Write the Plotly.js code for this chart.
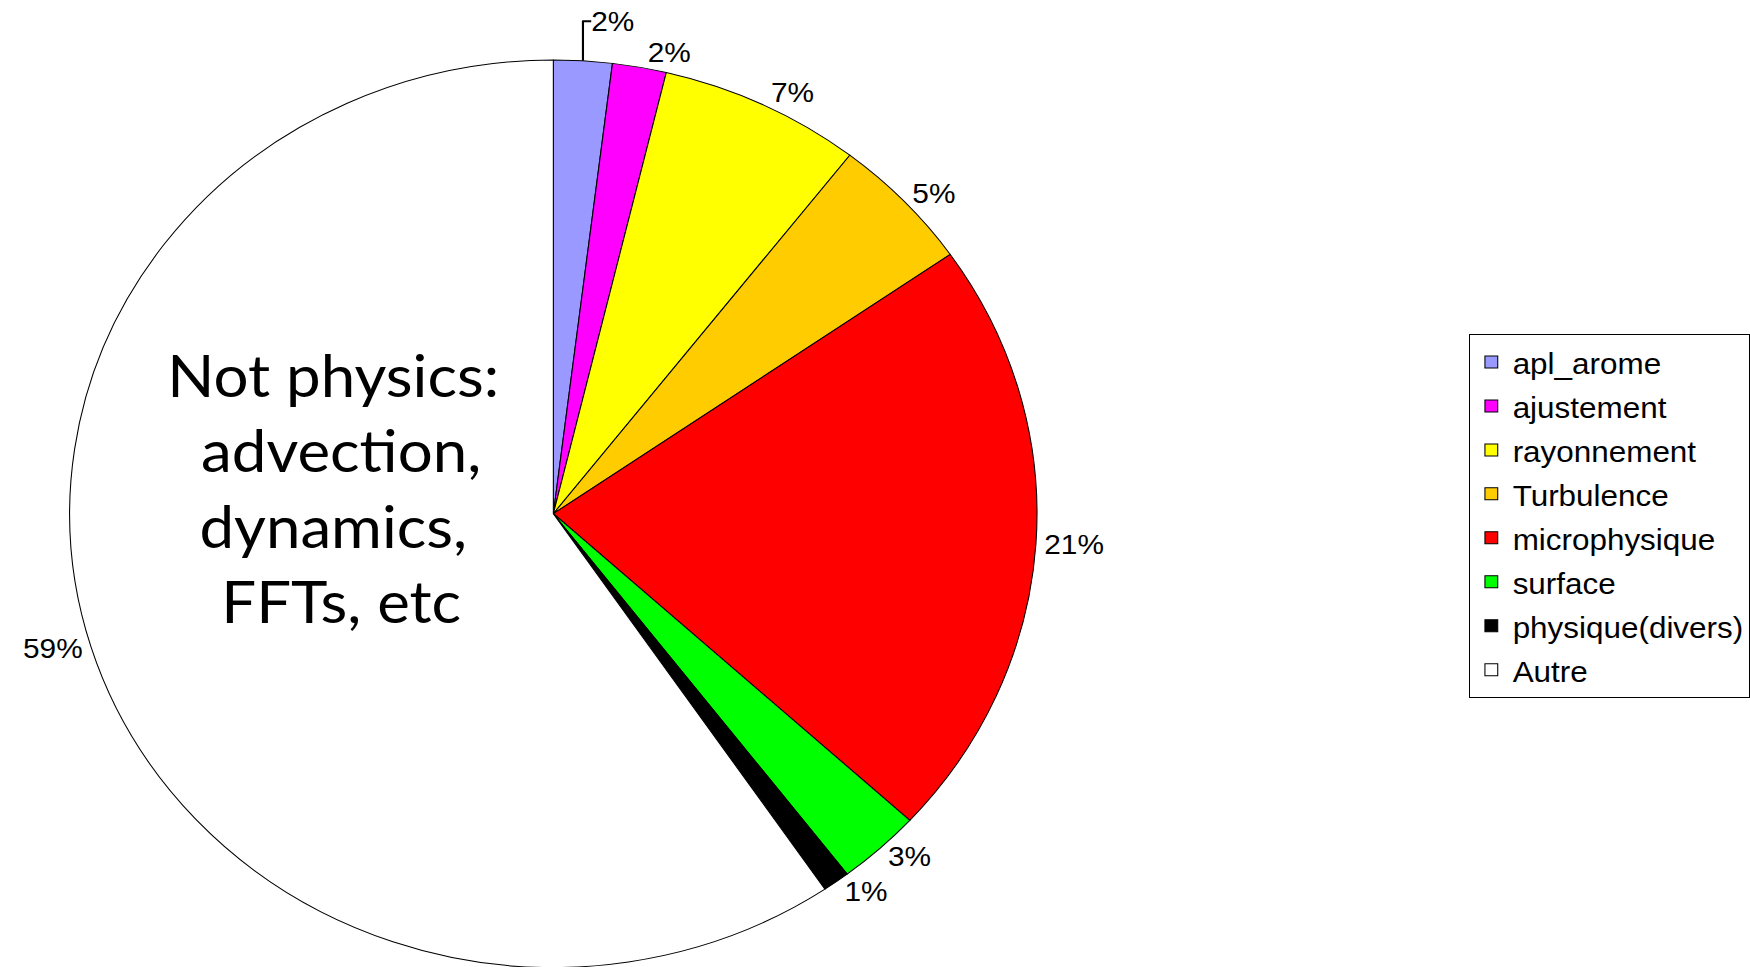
<!DOCTYPE html>
<html>
<head>
<meta charset="utf-8">
<script src="https://cdn.plot.ly/plotly-3.0.1.min.js"></script>
<style>
  html, body { margin: 0; padding: 0; overflow: hidden; background: #ffffff; width: 1750px; height: 967px; }
  #chart { width: 1642px; height: 980px; transform: scaleX(1.066); transform-origin: 0 0; }
</style>
</head>
<body>
<div id="chart"></div>
<script>
// Data
const categories = ["apl_arome", "ajustement", "rayonnement", "Turbulence", "microphysique", "surface", "physique(divers)", "Autre"];
const shares = [1.95, 1.8, 6.75, 4.82, 21.49, 2.8, 0.9, 59.49];
const sliceColors = ["#9999FF", "#FF00FF", "#FFFF00", "#FFCC00", "#FF0000", "#00FF00", "#000000", "#FFFFFF"];
const noteText = "Not physics:<br> advection,<br>dynamics,<br> FFTs, etc";
const pageNumber = "26";

const W = 1642, H = 980;
const legendLabels = categories.map(c => '<span style="font-size:29.5px">' + c + '</span>');

const trace = {
  type: 'pie',
  labels: legendLabels,
  values: shares,
  sort: false,
  direction: 'clockwise',
  rotation: 0,
  marker: { colors: sliceColors, line: { color: '#000000', width: 1 } },
  textposition: 'outside',
  texttemplate: '%{percent:.0%}',
  textfont: { family: 'Liberation Sans, Arial, sans-serif', size: 28, color: '#000000' },
  outsidetextfont: { family: 'Liberation Sans, Arial, sans-serif', size: 28, color: '#000000' },
  hoverinfo: 'label+percent',
  domain: { x: [65.4 / W, 973.4 / W], y: [12.3 / H, 920.3 / H] }
};

const layout = {
  width: W,
  height: H,
  margin: { l: 0, r: 0, t: 0, b: 0 },
  paper_bgcolor: '#ffffff',
  plot_bgcolor: '#ffffff',
  showlegend: true,
  legend: {
    x: 1379 / W, xanchor: 'left',
    y: 1 - 334 / H, yanchor: 'top',
    bordercolor: '#000000', borderwidth: 1,
    bgcolor: '#ffffff',
    font: { family: 'Liberation Sans, Arial, sans-serif', size: 31.5, color: '#000000' }
  },
  annotations: [
    {
      text: noteText,
      xref: 'paper', yref: 'paper',
      x: 313 / W, y: 1 - 487 / H,
      xanchor: 'center', yanchor: 'middle',
      align: 'center',
      showarrow: false,
      font: { family: 'Comic Sans MS, Lato, sans-serif', size: 58, color: '#000000' }
    },
    {
      text: pageNumber,
      xref: 'paper', yref: 'paper',
      x: 1496 / W, y: 1 - 958 / H,
      xanchor: 'center', yanchor: 'top',
      showarrow: false,
      font: { family: 'Liberation Sans, Arial, sans-serif', size: 30, color: '#000000' }
    }
  ]
};

Plotly.newPlot('chart', [trace], layout, { displayModeBar: false, responsive: false });
</script>
</body>
</html>
